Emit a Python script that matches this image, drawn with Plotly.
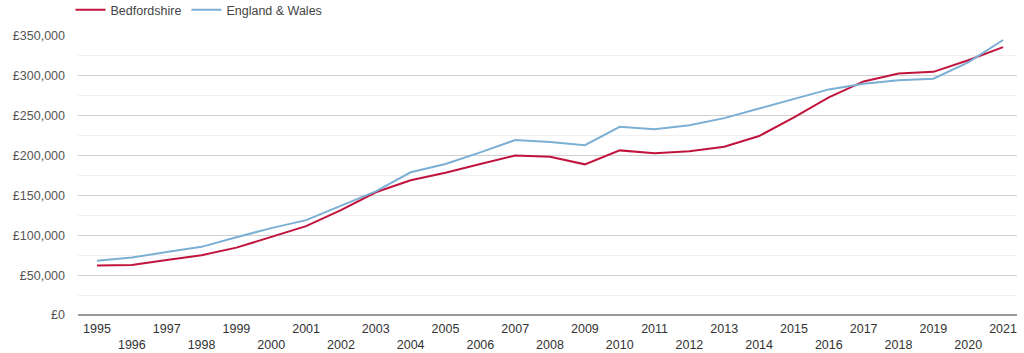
import plotly.graph_objects as go

years = list(range(1995, 2022))
bedfordshire = [62000, 62700, 69000, 75000, 84500, 98000, 111500, 131500, 154000, 169000,
                178500, 189500, 200000, 198500, 189000, 206500, 203000, 205500, 211000, 224500,
                248000, 273000, 293000, 303000, 305000, 319500, 336000]
england_wales = [68000, 72000, 79000, 85500, 97500, 109000, 119000, 137500, 155000, 179000,
                 189500, 204000, 219500, 217000, 213000, 236000, 233000, 238000, 247000, 259000,
                 271000, 283000, 290000, 294500, 296500, 317000, 345000]
y_ticks = [0, 50000, 100000, 150000, 200000, 250000, 300000, 350000]
y_tick_text = ["£0", "£50,000", "£100,000", "£150,000", "£200,000", "£250,000", "£300,000", "£350,000"]
x_tick_text = [str(y) if y % 2 == 1 else "<br>" + str(y) for y in years]

fig = go.Figure()
fig.add_trace(go.Scatter(x=years, y=bedfordshire, mode="lines", name="Bedfordshire",
                         line=dict(color="#c0143c", width=2)))
fig.add_trace(go.Scatter(x=years, y=england_wales, mode="lines", name="England & Wales",
                         line=dict(color="#7bafd4", width=2)))

font_family = "Liberation Sans, Arial, sans-serif"
fig.update_layout(
    width=1024, height=353,
    margin=dict(l=78, r=7, t=36, b=38, autoexpand=False),
    paper_bgcolor="white", plot_bgcolor="white",
    font=dict(family=font_family, size=12, color="#555"),
    showlegend=True,
    legend=dict(orientation="h", x=-0.008, y=1.093, xanchor="left", yanchor="middle",
                font=dict(size=12.5, color="#444"), itemwidth=30, tracegroupgap=0),
    xaxis=dict(range=[1994.455, 2021.4], tickmode="array", tickvals=years, ticktext=x_tick_text,
               showgrid=False, zeroline=False, showline=False, ticks="", automargin=False,
               tickfont=dict(size=12.5, color="#333"), ticklabelstandoff=4),
    yaxis=dict(range=[0, 350000], tickmode="array", tickvals=y_ticks, ticktext=y_tick_text,
               showgrid=True, gridcolor="#d0d0d0", gridwidth=1, automargin=False,
               zeroline=True, zerolinecolor="#999", zerolinewidth=2, showline=False, ticks="",
               minor=dict(dtick=25000, tick0=0, showgrid=True, gridcolor="#f0f0f0", gridwidth=1),
               tickfont=dict(size=12.5, color="#555"), ticklabelstandoff=12),
)

fig.write_html("out.html")
